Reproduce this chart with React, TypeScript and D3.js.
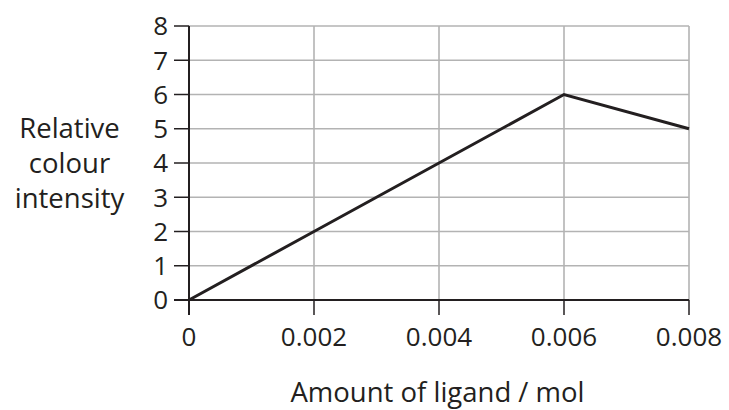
import React from "react";
import * as d3 from "d3";

const xValues = [0, 0.002, 0.004, 0.006, 0.008];
const yValues = [0, 2, 4, 6, 5];
const xTicks = [0, 0.002, 0.004, 0.006, 0.008];
const xTickLabels = ["0", "0.002", "0.004", "0.006", "0.008"];
const yTicks = [0, 1, 2, 3, 4, 5, 6, 7, 8];
const yTitleLines = ["Relative", "colour", "intensity"];
const xTitle = "Amount of ligand / mol";

const W = 729;
const H = 410;
const left = 189;
const right = 689;
const top = 26;
const bottom = 300;
const font = "'Open Sans', 'Noto Sans', sans-serif";
const fs = 26;
const fsTitle = 27.5;
const dark = "#231f20";
const grid = "#b3b3b3";

export default function App() {
  const x = d3.scaleLinear().domain([0, 0.008]).range([left, right]);
  const y = d3.scaleLinear().domain([0, 8]).range([bottom, top]);
  const line = d3
    .line<number>()
    .x((_, i) => x(xValues[i]))
    .y((d) => y(d));
  const pathD = line(yValues) || "";

  return (
    <svg
      width={W}
      height={H}
      style={{ position: "absolute", left: 0, top: 0, background: "#fff" }}
      fontFamily={font}
    >
      {yTicks
        .filter((t) => t > 0)
        .map((t) => (
          <line key={"hg" + t} x1={left} x2={right} y1={y(t)} y2={y(t)} stroke={grid} strokeWidth={1.6} />
        ))}
      {xTicks
        .filter((t) => t > 0)
        .map((t) => (
          <line key={"vg" + t} x1={x(t)} x2={x(t)} y1={top} y2={bottom} stroke={grid} strokeWidth={1.6} />
        ))}
      <line x1={left} x2={left} y1={top} y2={bottom + 15} stroke={dark} strokeWidth={2} />
      <line x1={left - 15} x2={right} y1={bottom} y2={bottom} stroke={dark} strokeWidth={2} />
      {yTicks.map((t) => (
        <g key={"yt" + t}>
          <line x1={left - 15} x2={left} y1={y(t)} y2={y(t)} stroke={dark} strokeWidth={1.5} />
          <text x={left - 21} y={y(t)} dy="0.36em" textAnchor="end" fontSize={fs} fill={dark}>
            {t}
          </text>
        </g>
      ))}
      {xTicks.map((t, i) => (
        <g key={"xt" + t}>
          <line x1={x(t)} x2={x(t)} y1={bottom} y2={bottom + 15} stroke={dark} strokeWidth={1.5} />
          <text x={x(t)} y={346} textAnchor="middle" fontSize={fs} fill={dark}>
            {xTickLabels[i]}
          </text>
        </g>
      ))}
      <path d={pathD} fill="none" stroke={dark} strokeWidth={3} strokeLinejoin="miter" />
      {yTitleLines.map((s, i) => (
        <text key={s} x={69.5} y={138 + i * 35} textAnchor="middle" fontSize={fsTitle} fill={dark}>
          {s}
        </text>
      ))}
      <text x={437.5} y={402} textAnchor="middle" fontSize={fsTitle} fill={dark}>
        {xTitle}
      </text>
    </svg>
  );
}
